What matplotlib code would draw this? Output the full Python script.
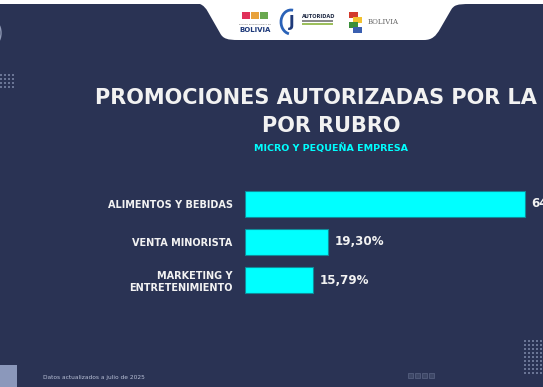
import matplotlib.pyplot as plt
from matplotlib.path import Path
from matplotlib.patches import PathPatch, Rectangle, Arc
import numpy as np

categories = ["ALIMENTOS Y BEBIDAS", "VENTA MINORISTA", "MARKETING Y\nENTRETENIMIENTO"]
values = [64.91, 19.30, 15.79]
value_labels = ["64,91%", "19,30%", "15,79%"]

title = "PROMOCIONES AUTORIZADAS POR LA AJ\nPOR RUBRO"
subtitle = "MICRO Y PEQUEÑA EMPRESA"
footer = "Datos actualizados a julio de 2025"

BG = "#2a3354"
CYAN = "#00ffff"
W, H = 543, 387

fig = plt.figure(figsize=(W / 100, H / 100), dpi=100)
fig.patch.set_facecolor(BG)

# background layer in pixel coordinates
bg = fig.add_axes([0, 0, 1, 1])
bg.set_xlim(0, W)
bg.set_ylim(H, 0)
bg.axis("off")
bg.set_facecolor(BG)

# white header tab
verts = [(180, 0), (180, 4), (200, 4), (205, 6), (208, 12), (220, 33),
         (223, 39), (228, 40), (238, 40), (424, 40), (432, 40), (436, 36),
         (440, 29), (451, 10), (454, 5), (457, 4), (470, 4), (470, 0), (180, 0)]
codes = [Path.MOVETO, Path.LINETO, Path.LINETO, Path.CURVE3, Path.CURVE3, Path.LINETO,
         Path.CURVE4, Path.CURVE4, Path.CURVE4, Path.LINETO, Path.CURVE4, Path.CURVE4,
         Path.CURVE4, Path.LINETO, Path.CURVE4, Path.CURVE4, Path.CURVE4, Path.LINETO,
         Path.CLOSEPOLY]
bg.add_patch(PathPatch(Path(verts, codes), facecolor="white", edgecolor="none"))
bg.add_patch(Rectangle((0, 0), W, 3.5, facecolor="white", edgecolor="none"))

# logos (simplified)
for x0, c in zip([242, 251, 260], ["#e0305a", "#e8a23c", "#6aa84f"]):
    bg.add_patch(Rectangle((x0, 12), 8, 7, facecolor=c, edgecolor="none"))
bg.text(255, 24, "ESTADO PLURINACIONAL DE", fontsize=1.6, color="#555555", ha="center", va="center")
bg.text(255, 30, "BOLIVIA", fontsize=5, color="#1f3a7a", ha="center", va="center", weight="bold")
bg.add_patch(Arc((291, 22), 20, 24, theta1=100, theta2=280, color="#2a62b8", lw=2))
bg.text(292, 22, "J", fontsize=11, color="#1f3a7a", ha="center", va="center", weight="bold")
bg.text(302, 17, "AUTORIDAD", fontsize=3.6, color="#1f2a44", ha="left", va="center", weight="bold")
bg.add_patch(Rectangle((302, 20), 31, 1.5, facecolor="#8a8a8a", edgecolor="none"))
bg.add_patch(Rectangle((302, 23), 31, 1.5, facecolor="#9cbf5c", edgecolor="none"))
for i, c in enumerate(["#d33a2c", "#f2c230", "#3a8f3a", "#3a5fb0"]):
    bg.add_patch(Rectangle((349 + 4 * (i % 2), 12 + 5 * i), 9, 6, facecolor=c, edgecolor="none"))
bg.text(368, 22, "BOLIVIA", fontsize=5, color="#666666", ha="left", va="center", family="DejaVu Serif")

# decorative dots and marks
gx, gy = np.meshgrid(np.arange(1, 16, 4), np.arange(75, 90, 4))
bg.scatter(gx, gy, s=0.8, color="#6a7595", marker="s", lw=0)
gx, gy = np.meshgrid(np.arange(525, 545, 4), np.arange(341, 377, 4))
bg.scatter(gx, gy, s=0.8, color="#6a7595", marker="s", lw=0)
bg.add_patch(Arc((-8, 33), 18, 26, theta1=-60, theta2=60, color="#8d97b3", lw=1))
bg.add_patch(Rectangle((0, 365), 17, 22, facecolor="#8b98bb", edgecolor="none"))
for x0 in [408, 415, 422, 429]:
    bg.add_patch(Rectangle((x0, 373), 5, 5, facecolor="#3d4766", edgecolor="#5a6585", lw=0.5))

# titles
bg.text(331, 112, title, fontsize=15, color="#f2f2f2", weight="bold", ha="center",
        va="center", linespacing=1.5)
bg.text(331, 148, subtitle, fontsize=6.8, color=CYAN, weight="bold", ha="center", va="center")
bg.text(43, 378, footer, fontsize=4.2, color="#b9c0d6", ha="left", va="center")

# bar chart
ax = fig.add_axes([245 / W, 1 - 299 / H, (W - 245) / W, 114 / H])
ax.set_facecolor("none")
y = np.arange(len(categories))
ax.barh(y, values, height=0.68, color=CYAN, edgecolor="#0e8c9a", linewidth=0.8)
ax.set_xlim(0, (W - 245) / 4.31)
ax.set_ylim(2.5, -0.5)
ax.set_yticks(y)
ax.set_yticklabels(categories, fontsize=7, weight="bold", color="#f2f2f2", linespacing=1.3)
ax.tick_params(axis="y", length=0, pad=9)
ax.set_xticks([])
for s in ax.spines.values():
    s.set_visible(False)
for yi, v, lab in zip(y, values, value_labels):
    ax.text(v + 1.5, yi, lab, fontsize=8.6, weight="bold", color="#f2f2f2",
            ha="left", va="center", clip_on=False)

fig.savefig("out.png", dpi=100, facecolor=BG)
plt.close()
